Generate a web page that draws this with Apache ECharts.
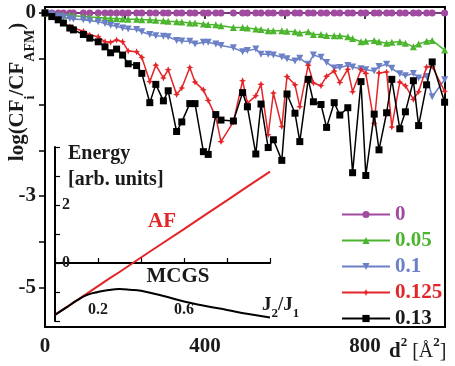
<!DOCTYPE html>
<html><head><meta charset="utf-8">
<script src="https://cdn.jsdelivr.net/npm/echarts@6/dist/echarts.min.js"></script>
<style>html,body{margin:0;padding:0;background:#fff}#c{width:455px;height:366px}</style>
</head><body><div id="c"></div>
<script>
// ---- main chart data ----
const d2 = [0,17,33,46,62,71,96,112,133,150,164,179,194,208,229,242,262,277,296,308,
  329,342,362,375,396,408,427,440,471,494,506,527,540,558,571,592,605,625,637,658,
  671,690,704,723,737,757,769,790,802,823,835,854,867,887,901,921,934,954,968,999];
const s0 = [0,0,0,0,0,0,0,0,0,0, 0,0,0,0,0,0,0,0,0,0, 0,0,0,0,0,0,0,0,0,0,
  0,0,0,0,0,0,0,0,0,0, 0,0,0,0,0,0,0,0,0,0, 0,0,0,0,0,0,0,0,0,0];
const s005 = [0,-0.03,-0.04,-0.05,-0.05,-0.06,-0.08,-0.09,-0.10,-0.11,
  -0.12,-0.12,-0.13,-0.14,-0.14,-0.15,-0.15,-0.16,-0.17,-0.18,
  -0.19,-0.20,-0.22,-0.22,-0.24,-0.25,-0.26,-0.28,-0.32,-0.32,
  -0.33,-0.35,-0.36,-0.39,-0.39,-0.39,-0.40,-0.41,-0.44,-0.41,
  -0.47,-0.47,-0.49,-0.50,-0.50,-0.52,-0.56,-0.63,-0.62,-0.60,
  -0.63,-0.66,-0.64,-0.63,-0.66,-0.74,-0.68,-0.62,-0.60,-0.81];
const s01 = [0,-0.03,-0.07,-0.09,-0.12,-0.13,-0.15,-0.17,-0.19,-0.23,
  -0.27,-0.29,-0.33,-0.35,-0.36,-0.41,-0.47,-0.50,-0.51,-0.52,
  -0.60,-0.61,-0.62,-0.68,-0.64,-0.64,-0.68,-0.71,-0.76,-0.85,
  -0.82,-0.79,-0.90,-0.90,-0.92,-0.96,-1.00,-1.05,-0.99,-1.12,
  -0.92,-0.97,-1.08,-1.20,-1.19,-1.15,-1.18,-1.22,-1.24,-1.27,
  -1.17,-1.12,-1.21,-1.33,-1.37,-1.32,-1.42,-1.39,-1.83,-1.46];
const s0125 = [0,-0.07,-0.14,-0.22,-0.30,-0.33,-0.40,-0.48,-0.52,-0.63,
  -0.64,-0.59,-0.63,-0.83,-0.85,-0.97,-1.50,-1.14,-1.42,-1.24,
  -1.78,-1.64,-1.19,-1.51,-1.68,-1.91,-2.27,-2.81,-2.38,-1.48,
  -1.97,-1.81,-1.56,-2.66,-1.75,-2.48,-1.39,-1.57,-2.05,-1.14,
  -1.53,-1.59,-1.38,-1.27,-1.52,-1.23,-1.72,-1.24,-1.32,-2.41,
  -1.31,-1.29,-2.49,-1.51,-1.59,-1.89,-1.72,-1.18,-1.17,-1.71];
const s013 = [0,-0.08,-0.15,-0.22,-0.33,-0.37,-0.47,-0.55,-0.63,-0.74,
  -0.87,-0.79,-0.92,-1.11,-1.15,-1.32,-1.96,-1.56,-1.92,-1.70,
  -2.59,-2.38,-1.98,-1.98,-3.03,-3.09,-2.22,-2.34,-2.36,-1.74,
  -2.05,-3.08,-1.99,-2.94,-2.77,-3.22,-1.77,-2.19,-2.81,-1.45,
  -1.94,-2.00,-2.50,-1.96,-2.23,-2.07,-3.49,-1.50,-3.55,-2.21,
  -2.99,-2.18,-1.45,-2.53,-2.16,-1.48,-2.46,-1.57,-1.07,-1.95];
const seriesNames = ['0','0.05','0.1','0.125','0.13'];
const xTickLabels = [0,400,800];
const yTickValues = [0,-1,-2,-3,-4,-5,-6];
const yLabelValues = [0,-4,-6];
const yLabelTexts = ['0','-3','-5'];
// ---- inset data ----
const jRatio = [0,0.05,0.1,0.15,0.2,0.25,0.3,0.35,0.4,0.5,0.6,0.7,0.8,0.9,1.0];
const afE = [-1.79,-1.54,-1.30,-1.05,-0.80,-0.55,-0.31,-0.06,0.19,0.68,1.17,1.67,2.16,2.66,3.15];
const mcgsE = [-1.79,-1.55,-1.30,-1.10,-1.00,-0.93,-0.90,-0.92,-0.96,-1.13,-1.33,-1.48,-1.62,-1.76,-1.88];
const insetXLabels = [0.2,0.6];
const insetYLabels = [0,2];

const F = '"Liberation Serif","Times New Roman",serif';
const colors = ['#a04ba0','#4cb52e','#6b80c6','#e32428','#000000'];
const symbols = ['circle','triangle','triangle','path://M0,-1L0.3,-0.3L1,0L0.3,0.3L0,1L-0.3,0.3L-1,0L-0.3,-0.3Z','rect'];
const rot = [0,0,180,0,0];
const sizes = [7,7,7,7,7];
const vals = [s0,s005,s01,s0125,s013];

const chart = echarts.init(document.getElementById('c'));
const near = (arr, v) => arr.some(a => Math.abs(a - v) < 1e-6);

const mainSeries = seriesNames.map((n, k) => ({
  type: 'line', name: n, xAxisIndex: 0, yAxisIndex: 0,
  data: d2.map((x, i) => [x, vals[k][i]]),
  symbol: symbols[k], symbolSize: sizes[k], symbolRotate: rot[k],
  lineStyle: {color: colors[k], width: 1.5},
  itemStyle: {color: colors[k]},
  z: 2 + k
}));

const option = {
  animation: false,
  backgroundColor: '#fff',
  grid: [
    {left: 45, right: 10, top: 7, bottom: 39, show: true, borderColor: '#000', borderWidth: 2},
    {left: 55, right: 185, top: 147, bottom: 45}
  ],
  xAxis: [
    {type: 'value', gridIndex: 0, min: 0, max: 1000, interval: 200,
      axisLine: {lineStyle: {color: '#000', width: 2}},
      axisTick: {length: 6, lineStyle: {color: '#000', width: 1.5}},
      axisLabel: {formatter: v => near(xTickLabels, v) ? String(v) : '', fontFamily: F, fontWeight: 'bold', fontSize: 21, color: '#1a1a1a', margin: 9},
      splitLine: {show: false}},
    {type: 'value', gridIndex: 1, min: 0, max: 1, interval: 0.2,
      axisLine: {lineStyle: {color: '#000', width: 2}},
      axisTick: {inside: true, length: 5, lineStyle: {color: '#000', width: 1.2}},
      axisLabel: {inside: true, margin: 3, formatter: v => near(insetXLabels, v) ? String(Math.round(v*10)/10) : '', fontFamily: F, fontWeight: 'bold', fontSize: 16, color: '#1a1a1a'},
      splitLine: {show: false}}
  ],
  yAxis: [
    {type: 'value', gridIndex: 0, min: -6.86, max: 0.13,
      axisLine: {show: true, lineStyle: {color: '#000', width: 2}},
      axisTick: {show: true, length: 6, customValues: yTickValues, lineStyle: {color: '#000', width: 1.5}},
      axisLabel: {customValues: yLabelValues, formatter: v => { const i = yLabelValues.findIndex(a => Math.abs(a - v) < 1e-6); return i >= 0 ? yLabelTexts[i] : ''; },
        fontFamily: F, fontWeight: 'bold', fontSize: 21, color: '#1a1a1a', margin: 9},
      splitLine: {show: false}},
    {type: 'value', gridIndex: 1, min: -2, max: 4, interval: 1,
      axisLine: {show: true, lineStyle: {color: '#000', width: 2}},
      axisTick: {show: true, inside: true, length: 5, lineStyle: {color: '#000', width: 1.2}},
      axisLabel: {inside: true, margin: 7, formatter: v => near(insetYLabels, v) ? String(v) : '', fontFamily: F, fontWeight: 'bold', fontSize: 16, color: '#1a1a1a'},
      splitLine: {show: false}}
  ],
  legend: {
    orient: 'vertical', left: 336, top: 199, itemWidth: 48, itemHeight: 9, itemGap: 5,
    textStyle: {fontFamily: F, fontWeight: 'bold', fontSize: 21, lineHeight: 18},
    data: seriesNames.map((n, i) => ({name: n, textStyle: {color: colors[i] === '#000000' ? '#1a1a1a' : colors[i]}}))
  },
  series: mainSeries.concat([
    {type: 'line', name: 'AF', xAxisIndex: 1, yAxisIndex: 1, data: jRatio.map((x, i) => [x, afE[i]]),
      symbol: 'none', lineStyle: {color: '#e32428', width: 2}, z: 10},
    {type: 'line', name: 'MCGS', xAxisIndex: 1, yAxisIndex: 1, data: jRatio.map((x, i) => [x, mcgsE[i]]),
      symbol: 'none', smooth: true, lineStyle: {color: '#000', width: 2}, z: 11}
  ]),
  graphic: [
    {type: 'text', x: 22, y: 92, rotation: Math.PI / 2,
      style: {text: '{a|log(CF}{s|i}{a|/CF}{s|AFM}{a|)}', align: 'center', verticalAlign: 'middle',
        rich: {
          a: {fontFamily: F, fontWeight: 'bold', fontSize: 21, lineHeight: 30, verticalAlign: 'top', fill: '#1a1a1a'},
          s: {fontFamily: F, fontWeight: 'bold', fontSize: 14, lineHeight: 30, verticalAlign: 'bottom', fill: '#1a1a1a'}
        }}},
    {type: 'text', x: 68, y: 154, style: {text: 'Energy', font: 'bold 20px ' + F, fill: '#1a1a1a', verticalAlign: 'middle'}},
    {type: 'text', x: 68, y: 180, style: {text: '[arb. units]', font: 'bold 20px ' + F, fill: '#1a1a1a', verticalAlign: 'middle'}},
    {type: 'text', x: 162, y: 222, style: {text: 'AF', font: 'bold 21px ' + F, fill: '#e32428', align: 'center', verticalAlign: 'middle'}},
    {type: 'text', x: 178, y: 277, style: {text: 'MCGS', font: 'bold 21px ' + F, fill: '#1a1a1a', align: 'center', verticalAlign: 'middle'}},
    {type: 'text', x: 262, y: 308,
      style: {text: '{a|J}{s|2}{a|/J}{s|1}', verticalAlign: 'middle',
        rich: {
          a: {fontFamily: F, fontWeight: 'bold', fontSize: 19, lineHeight: 24, verticalAlign: 'top', fill: '#1a1a1a'},
          s: {fontFamily: F, fontWeight: 'bold', fontSize: 13, lineHeight: 24, verticalAlign: 'bottom', fill: '#1a1a1a'}
        }}},
    {type: 'text', x: 389, y: 349,
      style: {text: '{b|d}{p|2}{r| [Å}{p|2}{r|]}', verticalAlign: 'middle',
        rich: {
          b: {fontFamily: F, fontWeight: 'bold', fontSize: 21, lineHeight: 26, verticalAlign: 'bottom', fill: '#1a1a1a'},
          r: {fontFamily: F, fontSize: 20, lineHeight: 26, verticalAlign: 'bottom', fill: '#1a1a1a'},
          p: {fontFamily: F, fontWeight: 'bold', fontSize: 13, lineHeight: 26, verticalAlign: 'top', fill: '#1a1a1a'}
        }}}
  ]
};
chart.setOption(option);
</script>
</body></html>
